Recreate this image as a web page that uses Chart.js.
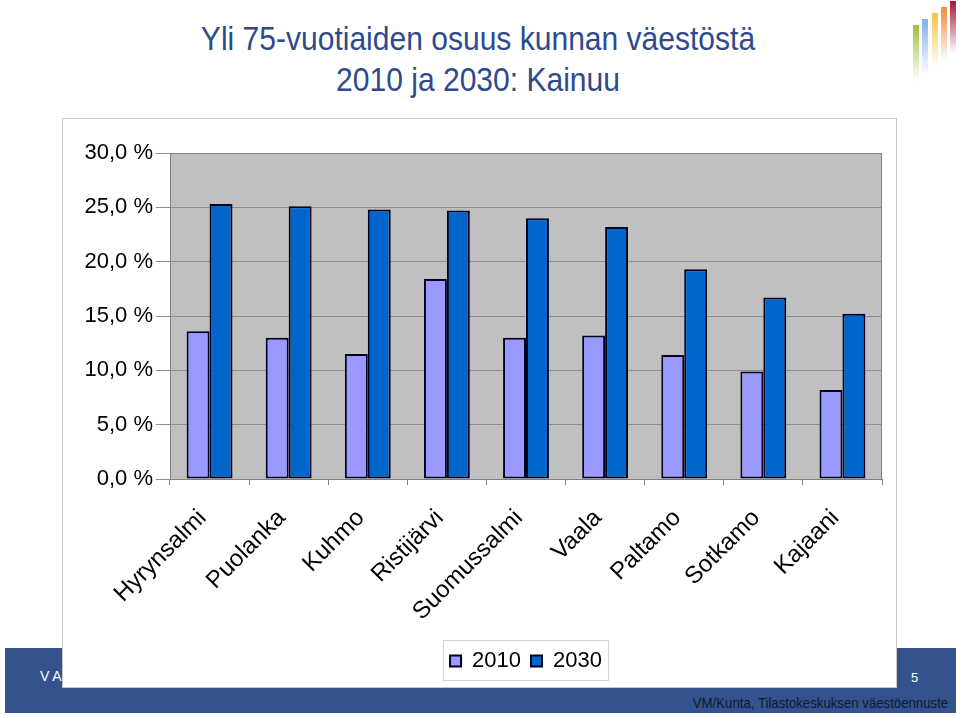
<!DOCTYPE html>
<html>
<head>
<meta charset="utf-8">
<script src="https://cdn.jsdelivr.net/npm/chart.js@4/dist/chart.umd.min.js"></script>
<style>
  body { margin: 0; width: 960px; height: 716px; background: #fff; position: relative; overflow: hidden; font-family: "Liberation Sans", Arial, sans-serif; }
  #title { position: absolute; left: 0; top: 18px; width: 956px; text-align: center; color: #2e4a8c; font-size: 33px; line-height: 41px; transform: scaleX(0.91); transform-origin: 478px 0; }
  #band { position: absolute; left: 5px; top: 648px; width: 951px; height: 65px; background: #34538c; }
  #org { position: absolute; left: 40px; top: 668px; color: #fff; font-size: 14px; letter-spacing: 4px; }
  #page { position: absolute; left: 911px; top: 670px; color: #fff; font-size: 13px; }
  #source { position: absolute; right: 12px; top: 694px; color: #111a33; font-size: 15px; transform: scaleX(0.88); transform-origin: right top; }
  #box { position: absolute; left: 62px; top: 118px; width: 833px; height: 568px; border: 1px solid #c8c8c8; background: #fff; }
  .logo { position: absolute; width: 6px; }
</style>
</head>
<body>
<div id="title">Yli 75-vuotiaiden osuus kunnan väestöstä<br>2010 ja 2030: Kainuu</div>
<div class="logo" style="left:913px;top:25px;height:56px;background:linear-gradient(#9dc33b,rgba(157,195,59,0))"></div>
<div class="logo" style="left:922px;top:19px;height:56px;background:linear-gradient(#7fb2e5,rgba(127,178,229,0))"></div>
<div class="logo" style="left:932px;top:13px;height:54px;background:linear-gradient(#f5c342,rgba(245,195,66,0))"></div>
<div class="logo" style="left:941px;top:7px;height:54px;background:linear-gradient(#f08a3a,rgba(240,138,58,0))"></div>
<div class="logo" style="left:950px;top:1px;height:52px;background:linear-gradient(#a5173b,rgba(165,23,59,0))"></div>
<div id="band"></div>
<div id="org">VALTIOVARAINMINISTERIÖ</div>
<div id="page">5</div>
<div id="source">VM/Kunta, Tilastokeskuksen väestöennuste</div>
<div id="box"><canvas id="myChart" width="833" height="568"></canvas></div>
<script>
const municipalities = ['Hyrynsalmi', 'Puolanka', 'Kuhmo', 'Ristijärvi', 'Suomussalmi', 'Vaala', 'Paltamo', 'Sotkamo', 'Kajaani'];
const share2010 = [13.6, 13.0, 11.5, 18.4, 13.0, 13.2, 11.4, 9.9, 8.2];
const share2030 = [25.3, 25.1, 24.8, 24.7, 24.0, 23.2, 19.3, 16.7, 15.2];
const yTicks = [0, 5, 10, 15, 20, 25, 30];

// gray plot area + frame, and a thin box around the legend
const plotBg = {
    id: 'plotBg',
    beforeDraw(chart) {
        const {ctx, chartArea: a} = chart;
        ctx.save();
        ctx.fillStyle = '#c0c0c0';
        ctx.fillRect(a.left, a.top, a.right - a.left, a.bottom - a.top);
        ctx.restore();
    },
    afterDraw(chart) {
        const {ctx, chartArea: a} = chart;
        ctx.save();
        ctx.strokeStyle = '#808080';
        ctx.lineWidth = 1;
        ctx.beginPath();
        ctx.moveTo(a.left, a.top + 0.5);
        ctx.lineTo(a.right - 0.5, a.top + 0.5);
        ctx.lineTo(a.right - 0.5, a.bottom);
        ctx.stroke();

        const lg = chart.legend;
        const hb = lg.legendHitBoxes;
        if (hb && hb.length) {
            const l = Math.min(...hb.map(h => h.left)) - 7;
            const r = Math.max(...hb.map(h => h.left + h.width)) + 6;
            ctx.strokeStyle = '#d4d4d4';
            ctx.strokeRect(Math.round(l) + 0.5, Math.round(lg.top) + 0.5, Math.round(r - l), Math.round(lg.height) - 2);
        }
        ctx.restore();
    }
};

const ctx = document.getElementById('myChart');

new Chart(ctx, {
    type: 'bar',
    data: {
        labels: municipalities,
        datasets: [{
            label: '2010',
            data: share2010,
            backgroundColor: '#9999ff',
            borderColor: '#000022',
            borderWidth: 2,
            borderSkipped: false
        }, {
            label: '2030',
            data: share2030,
            backgroundColor: '#0066cc',
            borderColor: '#000022',
            borderWidth: 2,
            borderSkipped: false
        }]
    },
    options: {
        responsive: false,
        animation: false,
        layout: {
            padding: { left: 7, right: 14, top: 34, bottom: 5 }
        },
        datasets: {
            bar: { categoryPercentage: 0.58, barPercentage: 1 }
        },
        plugins: {
            title: { display: false },
            tooltip: { enabled: false },
            legend: {
                position: 'bottom',
                fullSize: false,
                labels: {
                    color: '#000',
                    font: { family: 'Liberation Sans', size: 22 },
                    boxWidth: 11,
                    boxHeight: 11,
                    padding: 10
                }
            }
        },
        scales: {
            x: {
                afterFit(scale) { scale.height = 161; },
                grid: {
                    offset: true,
                    drawOnChartArea: false,
                    tickLength: 6,
                    color: '#808080'
                },
                border: { color: '#808080' },
                ticks: {
                    autoSkip: false,
                    minRotation: 45,
                    maxRotation: 45,
                    padding: 19,
                    labelOffset: -7,
                    color: '#000',
                    font: { family: 'Liberation Sans', size: 24 }
                }
            },
            y: {
                min: 0,
                max: 30,
                afterFit(scale) { scale.width = 100; },
                afterBuildTicks(scale) { scale.ticks = yTicks.map(v => ({ value: v })); },
                grid: {
                    color: '#8c8c8c',
                    tickLength: 14
                },
                border: { color: '#808080' },
                ticks: {
                    padding: 3,
                    color: '#000',
                    font: { family: 'Liberation Sans', size: 22 },
                    callback: v => v.toFixed(1).replace('.', ',') + ' %'
                }
            }
        }
    },
    plugins: [plotBg]
});
</script>
</body>
</html>
